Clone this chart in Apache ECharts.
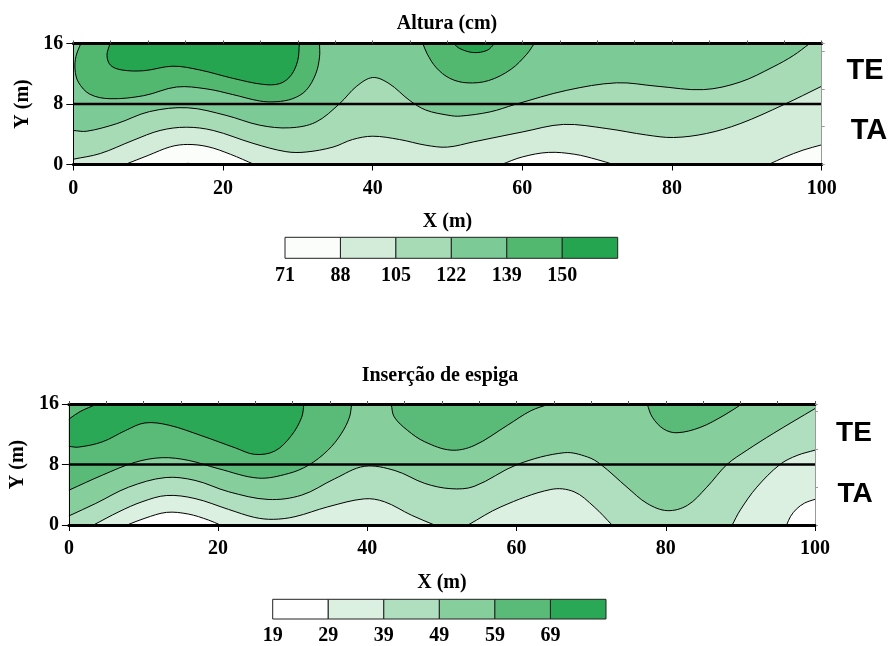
<!DOCTYPE html>
<html>
<head>
<meta charset="utf-8">
<script src="https://cdn.jsdelivr.net/npm/echarts@6/dist/echarts.min.js"></script>
<style>
html, body { margin: 0; padding: 0; background: #fff; }
#chart { width: 891px; height: 646px; }
</style>
</head>
<body>
<div id="chart"></div>
<script>
// ---------- Altura (cm): contour lines, points as [x (m), y (m)] ----------
const alturaLegend = ['71', '88', '105', '122', '139', '150'];
const alturaColors = ['#fbfdfb', '#d2ecd9', '#a6dbb5', '#7ccb96', '#52b870', '#25a550'];

const altura71 = [[13.6, 0], [15.3, 0.15], [17, 0]];
const altura88a = [[6.9, 0], [10, 1.2], [13, 2.35], [15.3, 2.65], [18, 2.35], [21, 1.35], [24.2, 0]];
const altura88b = [[57.2, 0], [60, 1.0], [63.5, 1.6], [67, 1.35], [70, 0.65], [72.2, 0]];
const altura88c = [[92.9, 0], [95, 0.95], [97.5, 1.9], [100, 2.6]];
const altura105 = [[0, 0.7], [3.6, 1.45], [8, 3.2], [11.6, 4.5], [15.1, 4.93], [18.7, 4.5], [24, 2.8],
  [28.4, 1.7], [31.1, 1.65], [34.7, 2.3], [37.3, 3.3], [40, 3.74], [43.6, 3.3], [47.1, 2.55],
  [50, 2.3], [53.5, 3.0], [60, 4.3], [65.5, 5.3], [71.3, 4.75], [76.6, 3.9], [80.2, 3.57],
  [84.6, 4.1], [89.1, 5.4], [94.9, 7.9], [100, 10.35]];
const altura122 = [[0, 4.5], [1.8, 4.4], [5.8, 5.4], [10.2, 7.0], [15.3, 7.5], [20.4, 6.5], [24.9, 5.2],
  [28.9, 4.85], [32.4, 5.6], [35.6, 8.06], [37.8, 10.3], [40, 11.5], [42.2, 10.7], [44.9, 8.5],
  [47.1, 7.2], [50.2, 6.5], [51.7, 6.4], [55.7, 6.96], [59, 7.93], [65.9, 9.8], [72.6, 10.8],
  [78, 10.35], [84.2, 9.9], [89.1, 10.9], [93.5, 12.9], [96.2, 14.4], [98.4, 16]];
const altura139a = [[1.0, 16], [0.36, 14.3], [0.23, 12.6], [0.67, 10.9], [2.2, 9.3], [4.9, 8.7],
  [9.4, 9.1], [13.8, 10.25], [17.8, 10.0], [21.3, 9.25], [24.9, 8.4], [27.1, 8.3], [29.3, 8.7],
  [31.1, 9.8], [32.4, 12.0], [32.9, 14.2], [32.9, 16]];
const altura139b = [[46.7, 16], [47.3, 14.6], [48.5, 12.8], [50.3, 11.4], [52.6, 10.8], [55.5, 11.1],
  [58.5, 12.6], [60.6, 14.6], [61.6, 16]];
const altura150a = [[4.9, 16], [4.5, 14.4], [5.0, 13.1], [6.5, 12.5], [9.4, 12.4], [13.3, 13.0],
  [16.9, 12.5], [21.3, 11.4], [25.3, 10.6], [27.6, 10.7], [29.1, 11.8], [30, 13.8], [30.2, 16]];
const altura150b = [[50.8, 16], [51.7, 15.3], [53.5, 14.8], [55.3, 15.1], [56.3, 16]];

// ---------- Inserção de espiga: contour lines ----------
const insercaoLegend = ['19', '29', '39', '49', '59', '69'];
const insercaoColors = ['#ffffff', '#dbf0e0', '#b0dfc0', '#86cf9c', '#5abb78', '#2aa855'];

const insercao29a = [[7.8, 0], [10.2, 0.9], [13.1, 1.67], [16, 1.45], [18.7, 0.66], [20.3, 0]];
const insercao29b = [[96.2, 0], [96.7, 1.1], [97.5, 2.1], [98.6, 2.9], [100, 3.4]];
const insercao39a = [[3.3, 0], [6.7, 1.75], [9.8, 3.07], [13.1, 3.9], [16.9, 3.5], [21.4, 2.06],
  [24.9, 1.0], [27.4, 0.75], [30.3, 1.1], [34.7, 2.4], [39.6, 3.46], [42.3, 3.07], [45.9, 1.3], [49, 0]];
const insercao39b = [[53.5, 0], [57.9, 2.4], [64.6, 4.7], [67.7, 4.4], [70.4, 2.4], [72.8, 0]];
const insercao39c = [[88.9, 0], [90, 2.0], [92.2, 5.0], [95.3, 8.0], [97.6, 9.2], [100, 9.9]];
const insercao49 = [[0, 1.2], [3.6, 2.85], [8, 5.0], [12.9, 6.27], [16.9, 5.9], [21.4, 4.4],
  [26.7, 3.38], [31.2, 3.95], [35.6, 6.1], [39.6, 7.76], [43.7, 7.2], [47.7, 5.5], [51.2, 4.8],
  [54.3, 5.1], [60.1, 8.0], [66.4, 9.56], [69.5, 9.0], [71.3, 8.0], [74.8, 5.0], [77.5, 2.85],
  [80.2, 1.9], [82.9, 2.6], [85.5, 5.0], [88.2, 8.0], [90.9, 9.9], [94.4, 12.1], [100, 15.4]];
const insercao59a = [[0, 4.6], [4.5, 6.6], [8.9, 8.3], [12.5, 8.9], [16, 8.55], [20, 7.46],
  [25.4, 6.2], [29.4, 6.8], [32.1, 7.9], [34.7, 9.87], [36.5, 12.06], [37.6, 14.25], [37.9, 16]];
const insercao59b = [[43.2, 16], [43.6, 14.3], [45.4, 12.5], [47.7, 11.0], [51.2, 9.9], [54.3, 10.5],
  [58.8, 13.2], [61.9, 15.1], [64.4, 16]];
const insercao59c = [[77.5, 16], [78.2, 14.25], [79.7, 12.7], [81.5, 12.2], [84.6, 12.9],
  [87.8, 14.5], [90.2, 16]];
const insercao69a = [[0, 10.4], [1.3, 10.3], [4.5, 11.0], [7.6, 12.5], [10.2, 13.5], [13.4, 13.2],
  [17.8, 11.8], [22.3, 10.2], [24.9, 9.34], [27.6, 9.78], [29.8, 11.8], [31.2, 14.25], [31.5, 16]];
const insercao69b = [[0, 14.0], [1.5, 15.0], [3.8, 16]];

// boundary between the TE and TA strips
const teTaBoundary = 8;

// ---------- filled bands: band index into the colour list, outline pieces ----------
const rev = a => a.slice().reverse();
const alturaRegions = [
  { band: 1, parts: [[[0, 0]], [[100, 0]], [[100, 16]], [[0, 16]]] },
  { band: 2, parts: [altura105, [[100, 16]], [[0, 16]]] },
  { band: 3, parts: [altura122, [[0, 16]]] },
  { band: 4, parts: [altura139a] },
  { band: 4, parts: [altura139b] },
  { band: 5, parts: [altura150a] },
  { band: 5, parts: [altura150b] },
  { band: 0, parts: [altura88a] },
  { band: 0, parts: [altura88b] },
  { band: 0, parts: [altura88c, [[100, 0]]] },
  { band: 0, parts: [altura71] }
];
const alturaLines = [altura71, altura88a, altura88b, altura88c, altura105, altura122,
  altura139a, altura139b, altura150a, altura150b];

const insercaoRegions = [
  { band: 2, parts: [[[0, 0]], [[100, 0]], [[100, 16]], [[0, 16]]] },
  { band: 3, parts: [insercao49, [[100, 16]], [[0, 16]]] },
  { band: 4, parts: [insercao59a, [[0, 16]]] },
  { band: 4, parts: [insercao59b] },
  { band: 4, parts: [insercao59c] },
  { band: 5, parts: [insercao69a, rev(insercao69b)] },
  { band: 1, parts: [insercao39a] },
  { band: 1, parts: [insercao39b] },
  { band: 1, parts: [insercao39c, [[100, 0]]] },
  { band: 0, parts: [insercao29a] },
  { band: 0, parts: [insercao29b, [[100, 0]]] }
];
const insercaoLines = [insercao29a, insercao29b, insercao39a, insercao39b, insercao39c, insercao49,
  insercao59a, insercao59b, insercao59c, insercao69a, insercao69b];

// ---------- rendering helpers ----------
const SERIF = '"Liberation Serif", "Times New Roman", serif';
const SANS = '"Liberation Sans", Arial, sans-serif';
const SMOOTH = 0.35;

// Each piece's ends are doubled so the smoothing keeps sharp joints at the frame.
function pathPoints(parts, api) {
  const out = [];
  parts.forEach(part => {
    const px = part.map(p => api.coord(p));
    out.push(px[0]);
    px.forEach(p => out.push(p));
    out.push(px[px.length - 1]);
  });
  return out;
}

function fillSeries(regions, colors, axis) {
  return {
    type: 'custom', xAxisIndex: axis, yAxisIndex: axis, clip: true, silent: true, z: 2,
    data: regions.map((r, i) => [i, 0]),
    renderItem: (params, api) => {
      const reg = regions[params.dataIndex];
      return {
        type: 'polygon',
        shape: { points: pathPoints(reg.parts, api), smooth: SMOOTH },
        style: { fill: colors[reg.band], stroke: null }
      };
    }
  };
}

function lineSeries(lines, axis) {
  return {
    type: 'custom', xAxisIndex: axis, yAxisIndex: axis, clip: true, silent: true, z: 3,
    data: lines.map((l, i) => [i, 0]),
    renderItem: (params, api) => ({
      type: 'polyline',
      shape: { points: pathPoints([lines[params.dataIndex]], api), smooth: SMOOTH },
      style: { fill: null, stroke: '#000', lineWidth: 1 }
    })
  };
}

function dividerSeries(axis) {
  return {
    type: 'line', xAxisIndex: axis, yAxisIndex: axis, silent: true, z: 5,
    symbol: 'none', animation: false,
    data: [[0, teTaBoundary], [100, teTaBoundary]],
    lineStyle: { color: '#000', width: 2.5 }
  };
}

function legendSeries(colors, axis) {
  return {
    type: 'custom', xAxisIndex: axis, yAxisIndex: axis, silent: true,
    data: colors.map((c, i) => [i, 0]),
    renderItem: (params, api) => {
      const i = params.dataIndex;
      const a = api.coord([i, 1]);
      const b = api.coord([i + 1, 0]);
      return {
        type: 'rect',
        shape: { x: a[0], y: a[1], width: b[0] - a[0], height: b[1] - a[1] },
        style: { fill: colors[i], stroke: '#222', lineWidth: 1 }
      };
    }
  };
}

const labelFont = { fontFamily: SERIF, fontWeight: 'bold', fontSize: 20, color: '#000' };

function bottomX(grid, gap) {
  return {
    gridIndex: grid, type: 'value', min: 0, max: 100, interval: 20, z: 10,
    name: 'X (m)', nameLocation: 'middle', nameGap: gap,
    nameTextStyle: labelFont,
    axisLine: { onZero: false, lineStyle: { color: '#000', width: 3 } },
    axisTick: { length: 6, lineStyle: { color: '#000', width: 1 } },
    axisLabel: Object.assign({ margin: 14 }, labelFont),
    splitLine: { show: false }
  };
}
function topX(grid) {
  return {
    gridIndex: grid, type: 'value', position: 'top', min: 0, max: 100, interval: 5, z: 10,
    axisLine: { onZero: false, lineStyle: { color: '#000', width: 3 } },
    axisTick: { length: 3, lineStyle: { color: '#555', width: 1 } },
    axisLabel: { show: false }, splitLine: { show: false }
  };
}
function leftY(grid) {
  return {
    gridIndex: grid, type: 'value', min: 0, max: 16, interval: 8, z: 10,
    name: 'Y (m)', nameLocation: 'middle', nameGap: 39, nameRotate: 90,
    nameTextStyle: labelFont,
    axisLine: { onZero: false, lineStyle: { color: '#000', width: 1 } },
    axisTick: { length: 7, lineStyle: { color: '#000', width: 1 } },
    axisLabel: Object.assign({ margin: 10 }, labelFont),
    splitLine: { show: false }
  };
}
function rightY(grid) {
  return {
    gridIndex: grid, type: 'value', position: 'right', min: 0, max: 16, interval: 5, z: 10,
    axisLine: { onZero: false, lineStyle: { color: '#999', width: 1 } },
    axisTick: { length: 3, lineStyle: { color: '#999', width: 1 } },
    axisLabel: { show: false }, splitLine: { show: false }
  };
}
function legendX(grid, labels, margin) {
  return {
    gridIndex: grid, type: 'value', min: 0, max: 6, interval: 1,
    axisLine: { show: false }, axisTick: { show: false }, splitLine: { show: false },
    axisLabel: Object.assign({
      margin: margin,
      formatter: v => (labels[v] !== undefined ? labels[v] : '')
    }, labelFont)
  };
}
function legendY(grid) {
  return { gridIndex: grid, type: 'value', min: 0, max: 1, show: false };
}

const chart = echarts.init(document.getElementById('chart'), null, { renderer: 'canvas' });

chart.setOption({
  animation: false,
  backgroundColor: '#fff',
  grid: [
    { left: 73.3, top: 43.5, width: 748.4, height: 121 },
    { left: 66.7, top: 404, width: 748.3, height: 121 },
    { left: 285, top: 237.3, width: 332.7, height: 21 },
    { left: 272.7, top: 599.3, width: 333.3, height: 21.3 }
  ],
  xAxis: [
    bottomX(0, 47), topX(0),
    bottomX(1, 48), topX(1),
    legendX(2, alturaLegend, 8),
    legendX(3, insercaoLegend, 7)
  ],
  yAxis: [
    leftY(0), rightY(0),
    leftY(1), rightY(1),
    legendY(2), legendY(3)
  ],
  graphic: [
    { type: 'text', x: 447, y: 24, style: { text: 'Altura (cm)', font: 'bold 20px ' + SERIF, fill: '#000', align: 'center', verticalAlign: 'middle' } },
    { type: 'text', x: 440, y: 376, style: { text: 'Inserção de espiga', font: 'bold 20px ' + SERIF, fill: '#000', align: 'center', verticalAlign: 'middle' } },
    { type: 'text', x: 865, y: 71, style: { text: 'TE', font: 'bold 29px ' + SANS, fill: '#000', align: 'center', verticalAlign: 'middle' } },
    { type: 'text', x: 869, y: 131, style: { text: 'TA', font: 'bold 29px ' + SANS, fill: '#000', align: 'center', verticalAlign: 'middle' } },
    { type: 'text', x: 854, y: 433, style: { text: 'TE', font: 'bold 28px ' + SANS, fill: '#000', align: 'center', verticalAlign: 'middle' } },
    { type: 'text', x: 855, y: 494, style: { text: 'TA', font: 'bold 28px ' + SANS, fill: '#000', align: 'center', verticalAlign: 'middle' } }
  ],
  series: [
    fillSeries(alturaRegions, alturaColors, 0),
    lineSeries(alturaLines, 0),
    dividerSeries(0),
    fillSeries(insercaoRegions, insercaoColors, 2),
    lineSeries(insercaoLines, 2),
    dividerSeries(2),
    legendSeries(alturaColors, 4),
    legendSeries(insercaoColors, 5)
  ]
});
</script>
</body>
</html>
